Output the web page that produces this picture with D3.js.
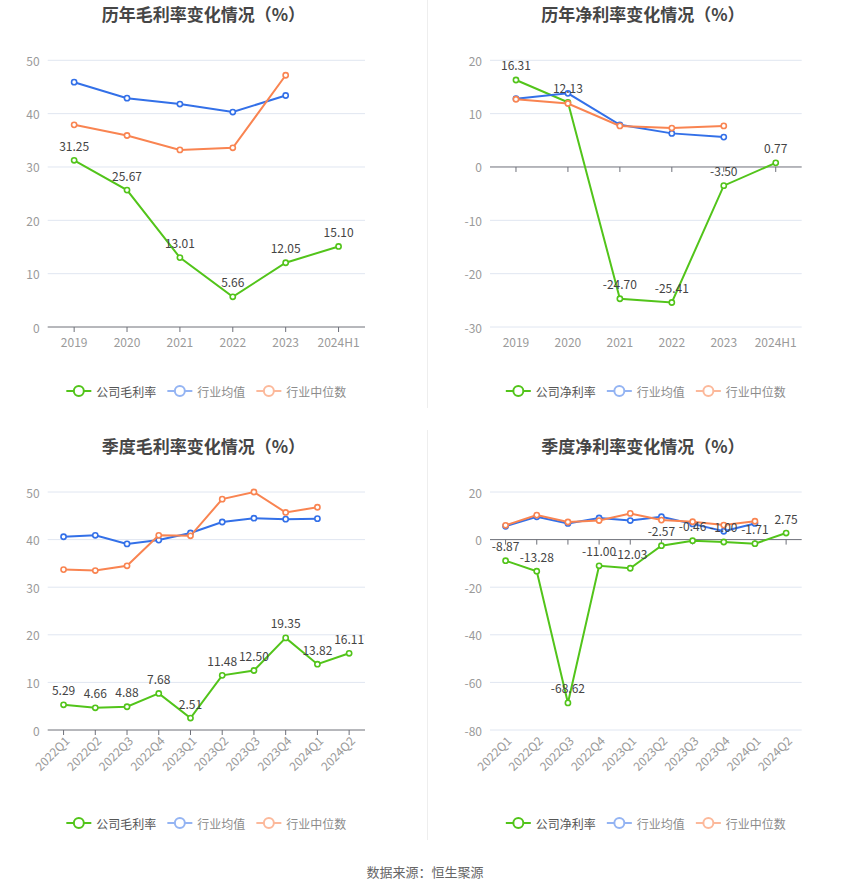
<!DOCTYPE html>
<html>
<head>
<meta charset="utf-8">
<script src="https://cdn.jsdelivr.net/npm/d3@7"></script>
<style>
  body { margin: 0; background: #fff; }
  svg { font-family: "Noto Sans CJK SC", "Noto Sans", sans-serif; }
</style>
</head>
<body>
<div id="app"></div>
<script>
// 数据
const yearCats = ['2019', '2020', '2021', '2022', '2023', '2024H1'];
const quarterCats = ['2022Q1', '2022Q2', '2022Q3', '2022Q4', '2023Q1', '2023Q2', '2023Q3', '2023Q4', '2024Q1', '2024Q2'];

const yearGross = [31.25, 25.67, 13.01, 5.66, 12.05, 15.10];
const yearGrossAvg = [45.9, 42.9, 41.8, 40.3, 43.4];
const yearGrossMedian = [37.9, 35.9, 33.2, 33.6, 47.2];

const yearNet = [16.31, 12.13, -24.70, -25.41, -3.50, 0.77];
const yearNetAvg = [12.8, 13.8, 7.9, 6.3, 5.6];
const yearNetMedian = [12.7, 11.9, 7.7, 7.3, 7.7];

const qGross = [5.29, 4.66, 4.88, 7.68, 2.51, 11.48, 12.50, 19.35, 13.82, 16.11];
const qGrossAvg = [40.6, 40.9, 39.1, 39.9, 41.4, 43.7, 44.5, 44.3, 44.4];
const qGrossMedian = [33.7, 33.5, 34.5, 40.9, 40.8, 48.5, 50.0, 45.7, 46.8];

const qNet = [-8.87, -13.28, -68.62, -11.00, -12.03, -2.57, -0.46, -1.00, -1.71, 2.75];
const qNetAvg = [5.6, 9.6, 6.8, 9.1, 8.0, 9.6, 6.6, 3.5, 6.8];
const qNetMedian = [6.0, 10.3, 7.4, 8.0, 11.0, 8.2, 7.5, 6.1, 7.7];

const colors = { company: '#52c41a', avg: '#3370e8', median: '#f98451' };
const legendColors = { company: '#52c41a', avg: '#94b4f3', median: '#fcb99b' };

const svg = d3.select('#app')
    .append('svg')
    .attr('width', 850)
    .attr('height', 891);

// 分隔线
svg.append('line').attr('x1', 427.5).attr('x2', 427.5).attr('y1', 0).attr('y2', 408)
    .attr('stroke', '#eeeeee');
svg.append('line').attr('x1', 427.5).attr('x2', 427.5).attr('y1', 430).attr('y2', 840)
    .attr('stroke', '#eeeeee');

function drawChart(cfg) {
    const g = svg.append('g');
    const x = d3.scaleBand().domain(cfg.cats).range([cfg.left, cfg.right]);
    const y = d3.scaleLinear().domain(cfg.domain).range([cfg.bottom, cfg.top]);
    const cx = d => x(d) + x.bandwidth() / 2;

    // 标题
    g.append('text')
        .attr('x', (cfg.left + cfg.right) / 2 - 3)
        .attr('y', cfg.titleY)
        .attr('text-anchor', 'middle')
        .attr('dominant-baseline', 'central')
        .attr('font-size', 17)
        .attr('font-weight', 'bold')
        .attr('fill', '#464646')
        .text(cfg.title);

    // 网格线
    const ticks = d3.range(cfg.domain[0], cfg.domain[1] + 0.001, cfg.step);
    g.selectAll('.grid').data(ticks.filter(t => t !== 0)).join('line')
        .attr('x1', cfg.left).attr('x2', cfg.right)
        .attr('y1', d => y(d)).attr('y2', d => y(d))
        .attr('stroke', '#e0e6f1');

    // y轴标签
    g.selectAll('.ylab').data(ticks).join('text')
        .attr('x', cfg.left - 8)
        .attr('y', d => y(d))
        .attr('text-anchor', 'end')
        .attr('dominant-baseline', 'central')
        .attr('font-size', 12)
        .attr('fill', '#9a9a9a')
        .text(d => d);

    // x轴（零线）
    const y0 = y(0);
    g.append('line').attr('x1', cfg.left).attr('x2', cfg.right)
        .attr('y1', y0).attr('y2', y0).attr('stroke', '#6e7079');
    g.selectAll('.xtick').data(cfg.cats).join('line')
        .attr('x1', cx).attr('x2', cx)
        .attr('y1', y0).attr('y2', y0 + 5)
        .attr('stroke', '#6e7079');

    // x轴标签
    const xl = g.selectAll('.xlab').data(cfg.cats).join('text')
        .attr('font-size', 12)
        .attr('fill', '#9a9a9a')
        .text(d => d);
    if (cfg.rotate) {
        xl.attr('text-anchor', 'end')
            .attr('dominant-baseline', 'central')
            .attr('transform', d => `translate(${cx(d) + 3},${cfg.bottom + 8}) rotate(-45)`);
    } else {
        xl.attr('x', cx).attr('y', cfg.bottom + 14)
            .attr('text-anchor', 'middle')
            .attr('dominant-baseline', 'central');
    }

    // 折线
    const series = [
        { key: 'company', data: cfg.company },
        { key: 'avg', data: cfg.avg },
        { key: 'median', data: cfg.median }
    ];
    const line = d3.line().x((d, i) => cx(cfg.cats[i])).y(d => y(d));
    series.forEach(s => {
        g.append('path').datum(s.data)
            .attr('d', line)
            .attr('fill', 'none')
            .attr('stroke', colors[s.key])
            .attr('stroke-width', 2);
        g.selectAll('.pt-' + s.key).data(s.data).join('circle')
            .attr('cx', (d, i) => cx(cfg.cats[i]))
            .attr('cy', d => y(d))
            .attr('r', 2.6)
            .attr('fill', '#fff')
            .attr('stroke', colors[s.key])
            .attr('stroke-width', 1.6);
    });

    // 数据标签
    g.selectAll('.dlab').data(cfg.company).join('text')
        .attr('x', (d, i) => cx(cfg.cats[i]))
        .attr('y', d => y(d) - 15)
        .attr('text-anchor', 'middle')
        .attr('dominant-baseline', 'central')
        .attr('font-size', 12)
        .attr('fill', '#444')
        .text(d => d.toFixed(2));

    // 图例
    const names = [cfg.companyName, '行业均值', '行业中位数'];
    const keys = ['company', 'avg', 'median'];
    const lg = g.append('g');
    let pos = 0;
    keys.forEach((k, i) => {
        const item = lg.append('g').attr('transform', `translate(${pos},0)`);
        item.append('line').attr('x1', 0).attr('x2', 25).attr('y1', 0).attr('y2', 0)
            .attr('stroke', legendColors[k]).attr('stroke-width', 2);
        item.append('circle').attr('cx', 12.5).attr('cy', 0).attr('r', 5)
            .attr('fill', '#fff').attr('stroke', legendColors[k]).attr('stroke-width', 2);
        const t = item.append('text').attr('x', 30).attr('y', 0)
            .attr('dominant-baseline', 'central')
            .attr('font-size', 12)
            .attr('fill', i === 0 ? '#555' : '#8c8c8c')
            .text(names[i]);
        pos += 30 + t.node().getComputedTextLength() + 11;
    });
    const total = pos - 11;
    lg.attr('transform', `translate(${(cfg.left + cfg.right) / 2 - total / 2},${cfg.legendY})`);
}

drawChart({
    title: '历年毛利率变化情况（%）', companyName: '公司毛利率',
    cats: yearCats, company: yearGross, avg: yearGrossAvg, median: yearGrossMedian,
    left: 47.7, right: 365, top: 60.3, bottom: 327, domain: [0, 50], step: 10,
    titleY: 13, legendY: 391, rotate: false
});
drawChart({
    title: '历年净利率变化情况（%）', companyName: '公司净利率',
    cats: yearCats, company: yearNet, avg: yearNetAvg, median: yearNetMedian,
    left: 490, right: 801.7, top: 60.3, bottom: 327, domain: [-30, 20], step: 10,
    titleY: 13, legendY: 391, rotate: false
});
drawChart({
    title: '季度毛利率变化情况（%）', companyName: '公司毛利率',
    cats: quarterCats, company: qGross, avg: qGrossAvg, median: qGrossMedian,
    left: 47.7, right: 365, top: 492, bottom: 730, domain: [0, 50], step: 10,
    titleY: 445, legendY: 823, rotate: true
});
drawChart({
    title: '季度净利率变化情况（%）', companyName: '公司净利率',
    cats: quarterCats, company: qNet, avg: qNetAvg, median: qNetMedian,
    left: 490, right: 801.7, top: 492, bottom: 730, domain: [-80, 20], step: 20,
    titleY: 445, legendY: 823, rotate: true
});

// 数据来源
svg.append('text')
    .attr('x', 425).attr('y', 871)
    .attr('text-anchor', 'middle')
    .attr('dominant-baseline', 'central')
    .attr('font-size', 13)
    .attr('fill', '#666')
    .text('数据来源：恒生聚源');
</script>
</body>
</html>
